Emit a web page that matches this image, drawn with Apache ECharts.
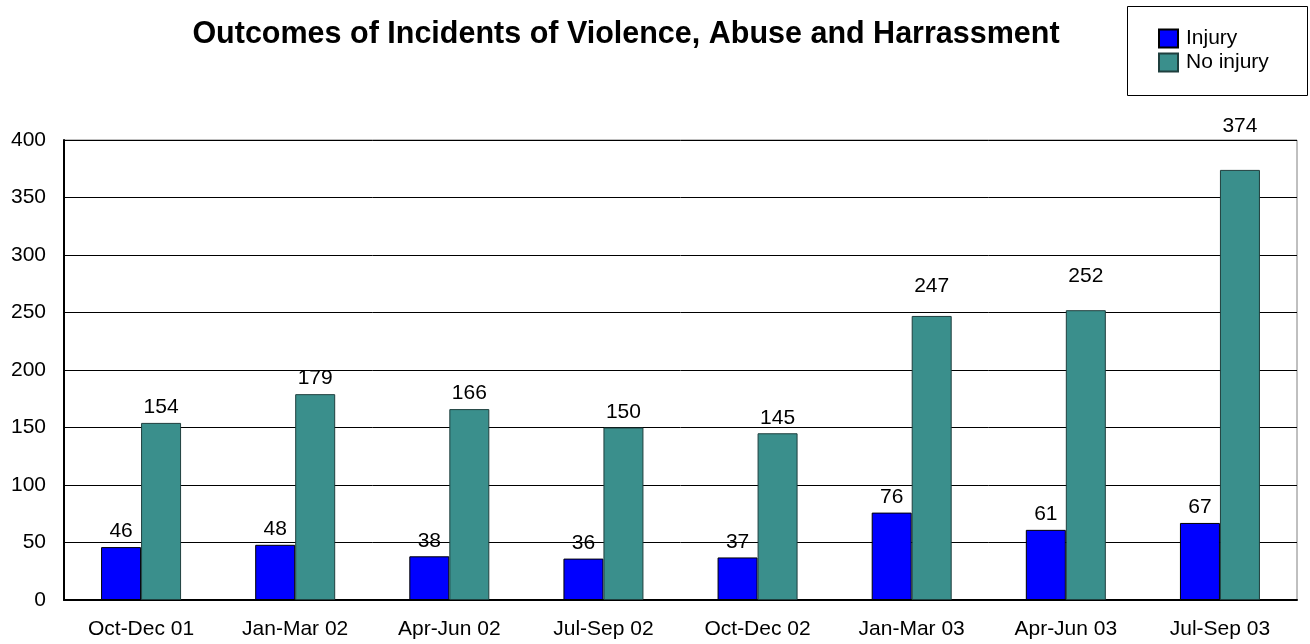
<!DOCTYPE html>
<html>
<head>
<meta charset="utf-8">
<script src="https://cdn.jsdelivr.net/npm/echarts@6/dist/echarts.min.js"></script>
<style>
  html, body { margin: 0; padding: 0; background: #fff; }
  #chart { width: 1310px; height: 644px; }
</style>
</head>
<body>
<div id="chart"></div>
<script>
const quarters = ['Oct-Dec 01', 'Jan-Mar 02', 'Apr-Jun 02', 'Jul-Sep 02', 'Oct-Dec 02', 'Jan-Mar 03', 'Apr-Jun 03', 'Jul-Sep 03']
const injury = [46, 48, 38, 36, 37, 76, 61, 67]
const noInjury = [154, 179, 166, 150, 145, 247, 252, 374]

const font = 'Arial, "Liberation Sans", sans-serif'

// the last few labels sit higher above their bars in the original
const liftedLabels = { 5: 19, 6: 23, 7: 33 }

const chart = echarts.init(document.getElementById('chart'))

chart.setOption({
  animation: false,
  textStyle: { fontFamily: font },
  title: {
    text: 'Outcomes of Incidents of Violence, Abuse and Harrassment',
    left: 621,
    top: 14,
    textAlign: 'center',
    textStyle: { fontSize: 30.5, fontWeight: 'bold', color: '#000', fontFamily: font }
  },
  graphic: [
    {
      type: 'rect',
      shape: { x: 1127.5, y: 6.5, width: 180, height: 89 },
      style: { fill: '#fff', stroke: '#000', lineWidth: 1 },
      z: 0
    }
  ],
  legend: {
    orient: 'vertical',
    left: 1153,
    top: 23,
    itemWidth: 19,
    itemHeight: 18,
    itemGap: 3,
    icon: 'rect',
    textStyle: { fontSize: 21, color: '#000', fontFamily: font, padding: [0, 0, 0, 3] },
    z: 5
  },
  grid: {
    left: 64,
    right: 13,
    top: 140,
    bottom: 44,
    show: true,
    borderColor: '#808080',
    borderWidth: 1
  },
  xAxis: {
    type: 'category',
    data: quarters,
    axisLine: { lineStyle: { color: '#000', width: 2 } },
    axisTick: { show: false },
    axisLabel: { fontSize: 21, color: '#000', margin: 19, fontFamily: font }
  },
  yAxis: {
    type: 'value',
    min: 0,
    max: 400,
    interval: 50,
    axisLine: { show: true, lineStyle: { color: '#000', width: 2 } },
    axisTick: { show: false },
    axisLabel: { fontSize: 21, color: '#000', margin: 18, fontFamily: font },
    splitLine: { lineStyle: { color: '#000', width: 1 } }
  },
  series: [
    {
      name: 'Injury',
      type: 'bar',
      data: injury,
      barWidth: 40,
      barGap: '0%',
      itemStyle: { color: '#0000FF', borderColor: '#000', borderWidth: 1 },
      label: { show: true, position: 'top', distance: 5, fontSize: 21, color: '#000', fontFamily: font }
    },
    {
      name: 'No injury',
      type: 'bar',
      data: noInjury.map((v, i) => liftedLabels[i] ? { value: v, label: { distance: liftedLabels[i] } } : v),
      barWidth: 40,
      itemStyle: { color: '#3A8F8C', borderColor: '#1f3f3e', borderWidth: 1 },
      label: { show: true, position: 'top', distance: 5, fontSize: 21, color: '#000', fontFamily: font }
    }
  ]
})
</script>
</body>
</html>
